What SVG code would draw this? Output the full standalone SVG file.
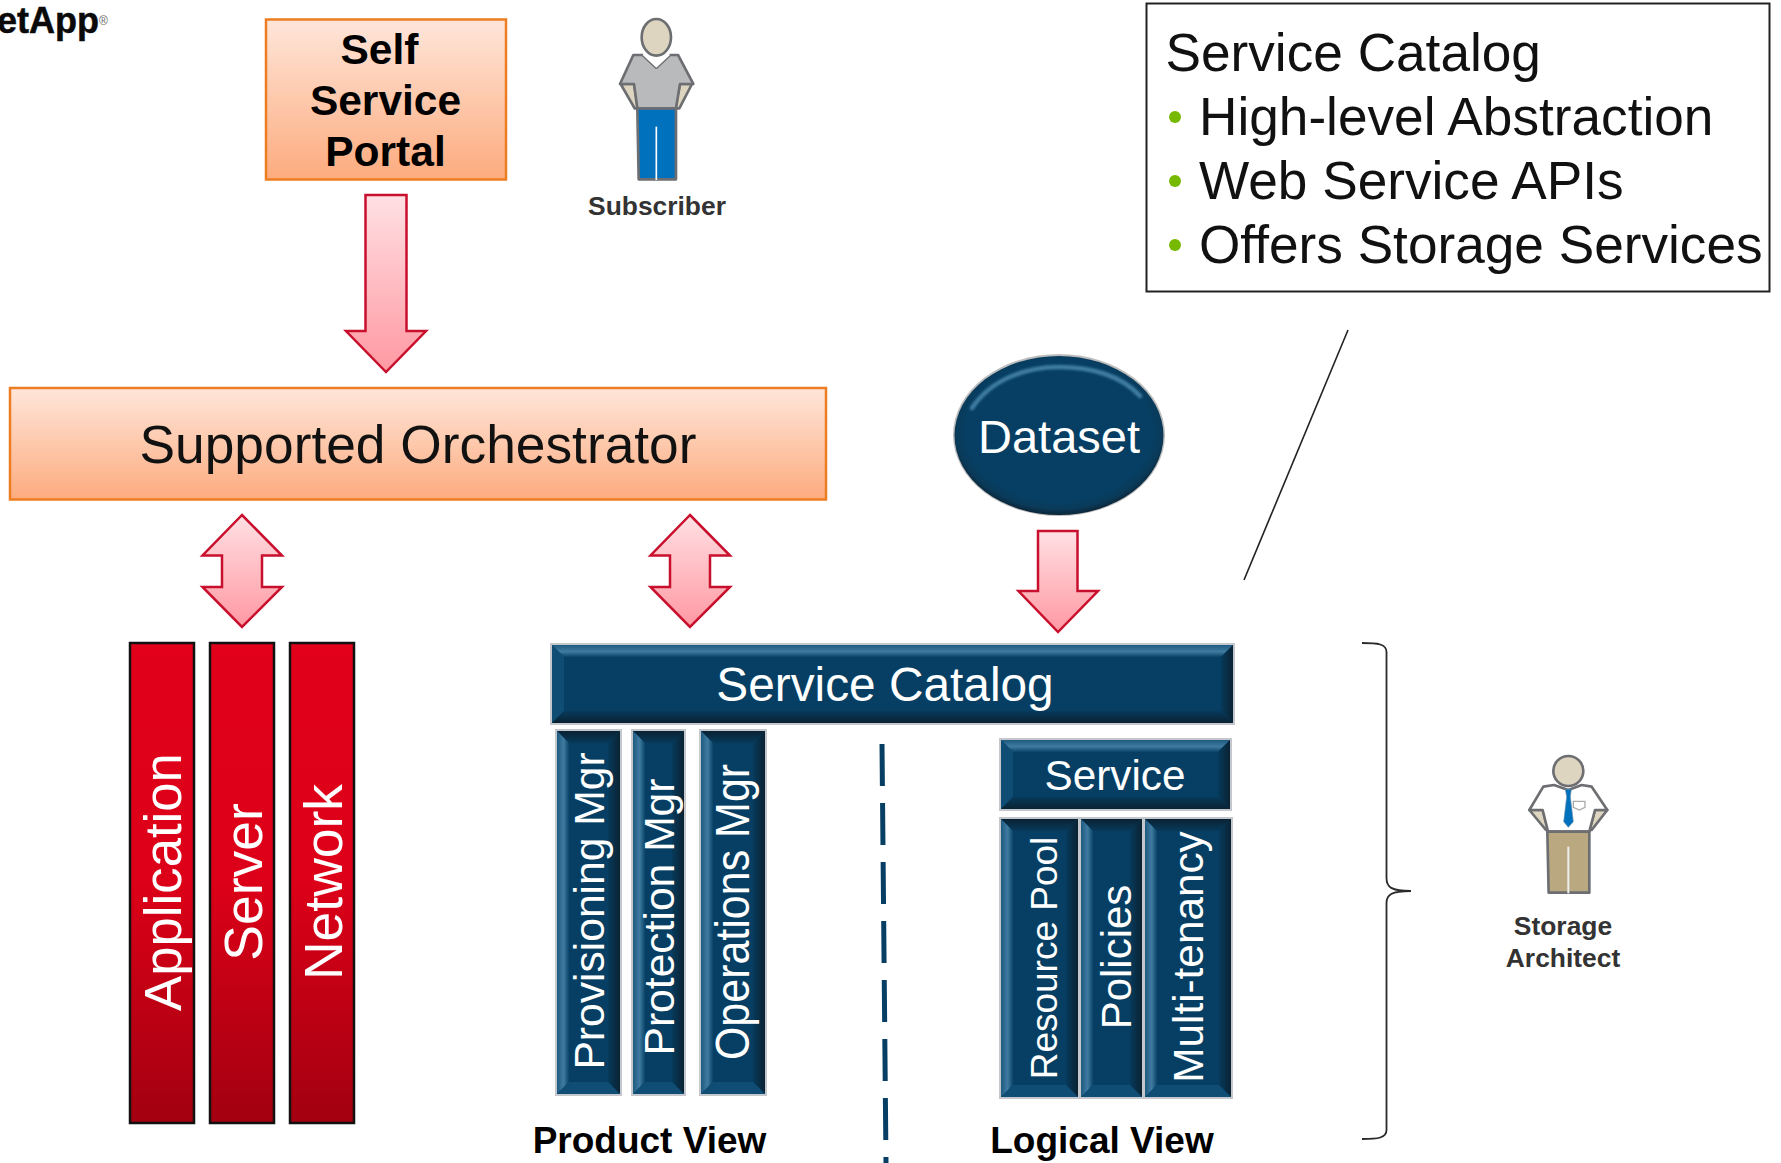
<svg xmlns="http://www.w3.org/2000/svg" width="1781" height="1163" viewBox="0 0 1781 1163">
<style>
text{font-family:"Liberation Sans",Arial,sans-serif}
.c{text-anchor:middle}
.b{font-weight:bold}
.w{fill:#fff}
.k{fill:#000}
.g{fill:#333;font-weight:bold;font-size:26.4px}
.or{fill:url(#orange);stroke:#ed7d22;stroke-width:2.5}
.rd{fill:url(#red);stroke:#111;stroke-width:2.5}
.ar{fill:url(#pink);stroke:#c8102e;stroke-width:2.5;stroke-linejoin:miter}
.navy{fill:#063f63;stroke:#c4c8cc;stroke-width:2}
.lh{fill:url(#ltH)}.lv{fill:url(#ltV)}.dr{fill:url(#dkR)}.db{fill:url(#dkB)}.dt{fill:url(#dkT)}.md{fill:#0f4d74}
.pg{stroke:#6d6e71;stroke-width:8;stroke-linejoin:round}
</style>
<defs>
<linearGradient id="orange" x1="0" y1="0" x2="0" y2="1"><stop offset="0" stop-color="#fee6da"/><stop offset="1" stop-color="#fdab7e"/></linearGradient>
<linearGradient id="pink" x1="0" y1="0" x2="0" y2="1"><stop offset="0" stop-color="#ffe0e3"/><stop offset="1" stop-color="#ff98a2"/></linearGradient>
<linearGradient id="red" x1="0" y1="0" x2="0" y2="1"><stop offset="0" stop-color="#e2001a"/><stop offset="0.5" stop-color="#dc0018"/><stop offset="1" stop-color="#a20010"/></linearGradient>
<linearGradient id="ltH" x1="0" y1="0" x2="0" y2="1"><stop offset="0" stop-color="#1f5a80"/><stop offset="0.55" stop-color="#3f7ba0"/><stop offset="1" stop-color="#0a4468"/></linearGradient>
<linearGradient id="ltV" x1="0" y1="0" x2="1" y2="0"><stop offset="0" stop-color="#1f5a80"/><stop offset="0.55" stop-color="#3f7ba0"/><stop offset="1" stop-color="#0a4468"/></linearGradient>
<linearGradient id="dkR" x1="0" y1="0" x2="1" y2="0"><stop offset="0" stop-color="#073a5b"/><stop offset="1" stop-color="#0a2233"/></linearGradient>
<linearGradient id="dkB" x1="0" y1="0" x2="0" y2="1"><stop offset="0" stop-color="#073a5b"/><stop offset="1" stop-color="#0a2233"/></linearGradient>
<linearGradient id="dkT" x1="0" y1="1" x2="0" y2="0"><stop offset="0" stop-color="#073a5b"/><stop offset="1" stop-color="#0a2233"/></linearGradient>
<radialGradient id="ell" cx="0.5" cy="0.47" r="0.53"><stop offset="0" stop-color="#063f63"/><stop offset="0.84" stop-color="#063f63"/><stop offset="0.93" stop-color="#0a3a59"/><stop offset="1" stop-color="#0b2638"/></radialGradient>
<filter id="soft" x="-10%" y="-30%" width="120%" height="160%"><feGaussianBlur stdDeviation="1.2"/></filter>
</defs>
<rect width="1781" height="1163" fill="#fff"/>

<g id="logo"><text x="-3" y="33" class="b" fill="#0a0a0a" stroke="#0a0a0a" stroke-width="0.5" font-size="36">etApp</text><text x="99" y="25" font-size="12" fill="#666">®</text></g>

<g id="connectors">
<path class="ar" d="M365.500 195H406.500V331H426L386 372L346 331H365.500Z"/>
<path class="ar" d="M242 515L282 555.500H262V587H282L242 627L202.500 587H222V555.500H202.500Z"/>
<path class="ar" d="M690 515L730 555.500H710V587H730L690 627L650.500 587H670V555.500H650.500Z"/>
<path class="ar" d="M1038 531H1077.500V591H1098L1058 632L1018.500 591H1038Z"/>
<line x1="1348" y1="330" x2="1244" y2="580" stroke="#222" stroke-width="1.6"/>
<path d="M1362 643C1378 643 1386.500 644 1386.500 652V878C1386.500 887 1391 891 1411 891C1391 891 1386.500 895 1386.500 903V1130C1386.500 1138 1378 1139 1362 1139" fill="none" stroke="#2a2a2a" stroke-width="1.800"/>
<line x1="882" y1="744" x2="886" y2="1163" stroke="#063f63" stroke-width="5" stroke-dasharray="42 17"/>
</g>

<g id="self-service-portal">
<rect class="or" x="266" y="19.500" width="240" height="160"/>
<text class="c b k" font-size="42.500" x="379.500" y="64">Self</text>
<text class="c b k" font-size="42.500" x="385.500" y="115">Service</text>
<text class="c b k" font-size="42.500" x="385.500" y="166">Portal</text>
</g>

<g id="subscriber">
<g transform="translate(590,0) scale(0.3333)">
<path class="pg" fill="#ddd5c0" d="M92 252L132 252L146 325L134 325ZM306 252L270 252L254 325L268 325Z"/>
<path class="pg" fill="#b9babc" d="M130 165L158 165L199 203L240 165L264 165L310 252L270 252L258 325L142 325L132 252L90 252Z"/>
<path fill="#fff" d="M158 165L172 150H226L240 165L199 203Z"/>
<path class="pg" fill="#0071bc" d="M142 325H258L258 538H146Z"/>
<line x1="199" y1="380" x2="199" y2="540" stroke="#fff" stroke-width="5"/>
<ellipse class="pg" cx="199" cy="112" rx="44" ry="55" fill="#ddd5c0"/>
</g>
<text class="c g" x="657" y="215">Subscriber</text>
</g>

<g id="service-catalog-callout">
<rect x="1146.500" y="3.500" width="623" height="288" fill="#fff" stroke="#222" stroke-width="2"/>
<text font-size="53.200" fill="#111" x="1165.500" y="71">Service Catalog</text>
<circle cx="1175" cy="117" r="6" fill="#76b900"/><text font-size="53.200" fill="#111" x="1199" y="135">High-level Abstraction</text>
<circle cx="1175" cy="181" r="6" fill="#76b900"/><text font-size="53.200" fill="#111" x="1199" y="199">Web Service APIs</text>
<circle cx="1175" cy="245" r="6" fill="#76b900"/><text font-size="53.200" fill="#111" x="1199" y="263">Offers Storage Services</text>
</g>

<g id="supported-orchestrator">
<rect class="or" x="10" y="388" width="816" height="111.500"/>
<text class="c" fill="#111" font-size="53.300" x="418" y="463">Supported Orchestrator</text>
</g>

<g id="dataset">
<ellipse cx="1059" cy="435" rx="106" ry="81" fill="#bdbdbd"/>
<ellipse cx="1059" cy="435.500" rx="104.500" ry="79.500" fill="url(#ell)"/>
<path d="M972 408C992 378 1028 367 1059 367C1092 367 1122 376 1140 396" fill="none" stroke="#3f7ba0" stroke-width="4.500" stroke-linecap="round" filter="url(#soft)"/>
<text class="c w" font-size="47" x="1059" y="453">Dataset</text>
</g>

<g id="application"><rect class="rd" x="130" y="643" width="64" height="480"/><text class="c w" font-size="52.700" transform="translate(180.500,882) rotate(-90)">Application</text></g>
<g id="server"><rect class="rd" x="210" y="643" width="64" height="480"/><text class="c w" font-size="53.500" transform="translate(262,882) rotate(-90)">Server</text></g>
<g id="network"><rect class="rd" x="290" y="643" width="64" height="480"/><text class="c w" font-size="53.500" transform="translate(342,882) rotate(-90)">Network</text></g>

<g id="service-catalog">
<rect class="navy" x="551" y="644" width="683" height="80"/>
<path class="lh" d="M552 645H1233L1221 657H564Z"/><path class="md" d="M552 645L564 657V711L552 723Z"/><path class="dr" d="M1221 657L1233 645V723L1221 711Z"/><path class="db" d="M552 723L564 711H1221L1233 723Z"/>
<text class="c w" font-size="47.800" x="885" y="701">Service Catalog</text>
</g>

<g id="provisioning-mgr">
<rect class="navy" x="556" y="730" width="65" height="365"/>
<path class="dt" d="M557 731H620L608 743H569Z"/><path class="lv" d="M557 731L569 743V1082L557 1094Z"/><path class="dr" d="M608 743L620 731V1094L608 1082Z"/><path class="md" d="M557 1094L569 1082H608L620 1094Z"/>
<text class="c w" font-size="42.600" transform="translate(603.500,911) rotate(-90)">Provisioning Mgr</text>
</g>
<g id="protection-mgr">
<rect class="navy" x="632" y="730" width="53" height="365"/>
<path class="dt" d="M633 731H684L672 743H645Z"/><path class="lv" d="M633 731L645 743V1082L633 1094Z"/><path class="dr" d="M672 743L684 731V1094L672 1082Z"/><path class="md" d="M633 1094L645 1082H672L684 1094Z"/>
<text class="c w" font-size="42.600" transform="translate(673.500,917) rotate(-90)">Protection Mgr</text>
</g>
<g id="operations-mgr">
<rect class="navy" x="700" y="730" width="66" height="365"/>
<path class="dt" d="M701 731H765L753 743H713Z"/><path class="lv" d="M701 731L713 743V1082L701 1094Z"/><path class="dr" d="M753 743L765 731V1094L753 1082Z"/><path class="md" d="M701 1094L713 1082H753L765 1094Z"/>
<text class="c w" font-size="43" transform="translate(748.500,912) rotate(-90) scale(1,1.1)">Operations Mgr</text>
</g>

<g id="service">
<rect class="navy" x="1000" y="739" width="231" height="71"/>
<path class="lh" d="M1001 740H1230L1218 752H1013Z"/><path class="md" d="M1001 740L1013 752V797L1001 809Z"/><path class="dr" d="M1218 752L1230 740V809L1218 797Z"/><path class="db" d="M1001 809L1013 797H1218L1230 809Z"/>
<text class="c w" font-size="42.300" x="1115" y="790">Service</text>
</g>
<g id="resource-pool">
<rect class="navy" x="1000" y="818" width="79" height="280"/>
<path class="dt" d="M1001 819H1078L1066 831H1013Z"/><path class="lv" d="M1001 819L1013 831V1085L1001 1097Z"/><path class="dr" d="M1066 831L1078 819V1097L1066 1085Z"/><path class="md" d="M1001 1097L1013 1085H1066L1078 1097Z"/>
<text class="c w" font-size="37" transform="translate(1057,958) rotate(-90)">Resource Pool</text>
</g>
<g id="policies">
<rect class="navy" x="1080" y="818" width="63" height="280"/>
<path class="dt" d="M1081 819H1142L1130 831H1093Z"/><path class="lv" d="M1081 819L1093 831V1085L1081 1097Z"/><path class="dr" d="M1130 831L1142 819V1097L1130 1085Z"/><path class="md" d="M1081 1097L1093 1085H1130L1142 1097Z"/>
<text class="c w" font-size="42" transform="translate(1130.500,957) rotate(-90)">Policies</text>
</g>
<g id="multi-tenancy">
<rect class="navy" x="1144" y="818" width="88" height="280"/>
<path class="dt" d="M1145 819H1231L1219 831H1157Z"/><path class="lv" d="M1145 819L1157 831V1085L1145 1097Z"/><path class="dr" d="M1219 831L1231 819V1097L1219 1085Z"/><path class="md" d="M1145 1097L1157 1085H1219L1231 1097Z"/>
<text class="c w" font-size="42.300" transform="translate(1203,957) rotate(-90)">Multi-tenancy</text>
</g>

<g id="product-view"><text class="c b k" font-size="37" x="649.500" y="1153">Product View</text></g>
<g id="logical-view"><text class="c b k" font-size="37" x="1102" y="1153">Logical View</text></g>

<g id="storage-architect">
<g transform="translate(1480,730) scale(0.3333)">
<path class="pg" fill="#ddd5c0" d="M148 240L188 240L205 300L198 300ZM382 240L345 240L328 300L335 300Z"/>
<path class="pg" fill="#fff" d="M190 170L222 165L265 180L305 165L335 170L382 240L345 240L328 305H204L188 240L148 240Z"/>
<path fill="#0071bc" stroke="#6d8fb0" stroke-width="2" d="M256 178H274L271 200L280 275L265 292L251 275L260 200Z"/>
<path fill="#fff" stroke="#aaa" stroke-width="4" d="M280 214H315V232L298 240L280 232Z"/>
<path class="pg" fill="#b9a880" d="M202 305H328L328 488H206Z"/>
<line x1="265" y1="350" x2="265" y2="490" stroke="#eee" stroke-width="6"/>
<circle class="pg" cx="265" cy="123" r="45" fill="#ddd5c0"/>
</g>
<text class="c g" x="1563" y="935">Storage</text>
<text class="c g" x="1563" y="967">Architect</text>
</g>
</svg>
